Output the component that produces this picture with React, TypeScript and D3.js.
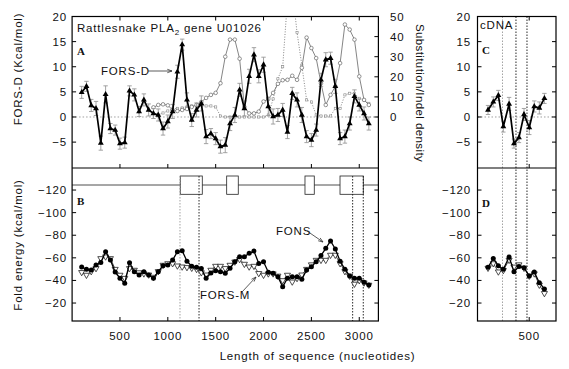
import React from 'react';
import * as d3 from 'd3';

// ---------- DATA ----------
const forsPositions = [100,150,200,250,300,350,400,450,500,550,600,650,700,750,800,850,900,950,1000,1050,1100,1150,1200,1250,1300,1350,1400,1450,1500,1550,1600,1650,1700,1750,1800,1850,1900,1950,2000,2050,2100,2150,2200,2250,2300,2350,2400,2450,2500,2550,2600,2650,2700,2750,2800,2850,2900,2950,3000,3050,3100];
const forsD = [4.9,6.1,2.3,1.7,-5.2,4.5,-2.3,-2.6,-5.3,-5.1,5.2,4.4,1.1,3.4,1.4,0.7,0.4,-2.3,-0.9,1.1,9.0,14.4,3.4,-0.6,1.4,2.7,-3.9,-3.3,-4.3,-5.9,-5.6,-1.3,0.4,5.4,1.7,8.1,12.4,8.1,10.4,2.1,0.1,0.4,1.4,-3.0,4.7,3.4,0.4,-3.9,-4.6,-2.6,7.4,11.4,11.7,6.1,-4.3,-3.9,-1.3,4.1,2.4,0.7,-1.3];
const forsDErr = [1.2,1.0,1.2,1.4,1.4,1.7,1.0,1.0,1.1,1.1,1.0,1.2,1.0,1.2,1.2,1.0,1.2,1.3,1.3,1.4,1.3,1.1,1.4,1.3,1.4,1.5,1.4,1.0,1.2,1.3,1.5,1.4,1.5,1.3,1.5,1.4,1.4,1.3,1.5,1.8,1.5,1.3,1.3,1.3,1.2,1.4,1.5,1.2,1.3,1.2,1.3,1.4,1.2,1.4,1.2,1.3,1.3,1.3,1.2,1.3,1.3];
const fons = [-51.9,-49.8,-49.2,-53.6,-55.8,-65.4,-58,-47.4,-41.9,-37.4,-55.7,-47.7,-44.8,-47.7,-44.8,-41.9,-47.7,-53,-53.6,-58,-65.4,-66.3,-57,-52.5,-51.6,-50.5,-41.9,-46.5,-48.6,-47.7,-46.3,-50.7,-56.5,-61,-61,-64,-66,-55,-56.5,-47.2,-46.3,-43.3,-34.4,-41.9,-43.3,-43.3,-41,-49.2,-52.1,-56.5,-62,-68.4,-74.9,-67.8,-57,-50,-44,-42,-42,-38.5,-36];
const forsM = [-47.2,-44.8,-48,-50.7,-59.5,-61,-59.5,-50,-44.8,-42,-50.7,-49.2,-47,-46,-45,-43,-48,-53.6,-55,-55,-53,-52.1,-51.6,-51,-50,-47,-45,-49.2,-52.7,-52.7,-50.7,-53.6,-56.5,-58.7,-54.5,-52.1,-52.7,-46.3,-44.8,-46,-46,-44,-40,-44.8,-38.8,-41.9,-45,-50,-54,-58,-58,-58,-62.5,-62.5,-55,-48,-44,-36.9,-40,-38,-36];

const substPositions = [850,900,950,1000,1050,1100,1150,1200,1250,1300,1350,1400,1450,1500,1550,1600,1650,1700,1750,1800,1850,1900,1950,2000,2050,2100,2150,2200,2250,2300,2350,2400,2450,2500,2550,2600,2650,2700,2750,2800,2850,2900,2950,3000,3050,3100];
const substDensity = [4.8,6,6.3,5.8,3.5,3,3.5,4,5,6,7.5,9.5,11,12,16.8,30,38.5,38.5,29,5,1.8,1.8,2.7,7.7,9,12,16.5,18.3,18.5,20.5,18.5,24.5,39.5,34.3,29.3,16.8,6,11,15.2,26.8,46,43.5,38.5,20.2,8.5,6];
const indelPositions = [900,950,1000,1050,1100,1150,1200,1250,1300,1350,1400,1450,1500,1550,1600,1650,1700,1750,1800,1850,1900,1950,2000,2050,2100,2150,2200,2250,2300,2350,2400,2450,2500,2550,2600,2650,2700,2750,2800,2850,2900,2950,3000,3050,3100];
const indelDensity = [1,2,3,4,4.3,4.5,5,5.5,5,5.7,5.5,5.5,5,0.5,0,0,0,0,0,0,0,0,0,1,9,19,25,58,64,42,25.8,8.5,7.5,1,0.5,0.5,0.5,4.3,4.3,11,11.8,11.8,9.3,8.5,6.8];

const cdnaPositions = [70,125,178,230,290,341,393,446,501,553,606,659];
const cdnaForsD = [1.4,3.0,4.3,-1.9,2.6,-5.3,-4.1,0.5,-2.1,2.1,1.8,3.7];
const cdnaForsDErr = [0.9,1.0,1.0,1.1,1.3,0.9,1.0,1.2,1.4,1.1,1.2,1.0];
const cdnaFons = [-51.6,-59.5,-53,-49.8,-60.7,-47.7,-52.3,-51.2,-44,-47.5,-38,-32.5];
const cdnaForsM = [-51,-55,-47.7,-49,-58,-52,-54,-51,-44,-46,-36,-28.6];

const exons = [[1130,1360],[1615,1736],[2433,2530],[2799,3042]];
const geneMarks = [{ pos: 1127, dark: false }, { pos: 1326, dark: true }, { pos: 2931, dark: true }, { pos: 3042, dark: true }];
const cdnaMarks = [{ pos: 221, dark: false }, { pos: 362, dark: true }, { pos: 477, dark: true }];

const xTicks = [500,1000,1500,2000,2500,3000];
const cdnaXTicks = [500];
const forsTicks = [20,15,10,5,0,-5];
const densityTicks = [50,40,30,20,10,0];
const foldTicks = [-120,-100,-80,-60,-40,-20];

// ---------- LAYOUT ----------
const L = 72.1, R = 378.4, TOP = 16.5, MID = 168, BOT = 321;
const CL = 477.5, CR = 556;
const FONT = "'Liberation Sans', Arial, sans-serif";

const x = d3.scaleLinear().domain([0, 3200]).range([L, R]);
const xc = d3.scaleLinear().domain([-40, 780]).range([CL, CR]);
const yA = d3.scaleLinear().domain([-10.15, 20]).range([MID, TOP]);
const yR = d3.scaleLinear().domain([0, 50]).range([yA(0), TOP]);
const yB = d3.scaleLinear().domain([-139.5, -4.1]).range([MID, BOT]);

const tri = d3.symbol(d3.symbolTriangle, 15)() as string;
const triSmall = d3.symbol(d3.symbolTriangle, 16)() as string;
const fmt = (v: number) => (v < 0 ? '\u2212' + Math.abs(v) : String(v));

function Series({ xs, ys, xScale, yScale, kind }: any) {
  const pts = xs.map((p: number, i: number) => [xScale(p), yScale(ys[i])]);
  const line = d3.line()(pts) as string;
  if (kind === 'fors') {
    return (
      <g>
        <path d={line} fill="none" stroke="#000" strokeWidth={1.7} />
        {pts.map((p: number[], i: number) => (
          <path key={i} d={tri} transform={`translate(${p[0]},${p[1]})`} fill="#000" />
        ))}
      </g>
    );
  }
  if (kind === 'fons') {
    return (
      <g>
        <path d={line} fill="none" stroke="#000" strokeWidth={1.3} />
        {pts.map((p: number[], i: number) => (
          <circle key={i} cx={p[0]} cy={p[1]} r={2.5} fill="#000" />
        ))}
      </g>
    );
  }
  if (kind === 'forsm') {
    return (
      <g>
        <path d={line} fill="none" stroke="#222" strokeWidth={0.8} />
        {pts.map((p: number[], i: number) => (
          <path key={i} d={triSmall} transform={`translate(${p[0]},${p[1]}) rotate(180)`} fill="#fff" stroke="#222" strokeWidth={0.8} />
        ))}
      </g>
    );
  }
  if (kind === 'subst') {
    return (
      <g>
        <path d={line} fill="none" stroke="#666" strokeWidth={0.8} />
        {pts.map((p: number[], i: number) => (
          <circle key={i} cx={p[0]} cy={p[1]} r={1.8} fill="#fff" stroke="#666" strokeWidth={0.7} />
        ))}
      </g>
    );
  }
  // indel
  return (
    <g>
      <path d={line} fill="none" stroke="#777" strokeWidth={0.9} strokeDasharray="1,1.6" />
      {pts.map((p: number[], i: number) => (
        <rect key={i} x={p[0] - 1.1} y={p[1] - 1.1} width={2.2} height={2.2} fill="#fff" stroke="#888" strokeWidth={0.6} />
      ))}
    </g>
  );
}

function ErrorBars({ xs, ys, es, xScale, yScale }: any) {
  return (
    <g stroke="#999" strokeWidth={0.9}>
      {xs.map((p: number, i: number) => {
        const cx = xScale(p), y1 = yScale(ys[i] - es[i]), y2 = yScale(ys[i] + es[i]);
        return (
          <g key={i}>
            <line x1={cx} x2={cx} y1={y1} y2={y2} />
            <line x1={cx - 2.2} x2={cx + 2.2} y1={y1} y2={y1} />
            <line x1={cx - 2.2} x2={cx + 2.2} y1={y2} y2={y2} />
          </g>
        );
      })}
    </g>
  );
}

function Arrow({ x1, y1, x2, y2 }: any) {
  const a = Math.atan2(y2 - y1, x2 - x1);
  const h = 5;
  const p1 = [x2 - h * Math.cos(a - 0.35), y2 - h * Math.sin(a - 0.35)];
  const p2 = [x2 - h * Math.cos(a + 0.35), y2 - h * Math.sin(a + 0.35)];
  return (
    <g stroke="#333" strokeWidth={0.8} fill="none">
      <line x1={x1} y1={y1} x2={x2} y2={y2} />
      <path d={`M${p1[0]},${p1[1]} L${x2},${y2} L${p2[0]},${p2[1]}`} />
    </g>
  );
}

export default function App() {
  const T = 4;
  const txt = { fontFamily: FONT, fontSize: 11.5, letterSpacing: 0.8, fill: '#111' } as any;
  return (
    <svg width={569} height={369} style={{ position: 'absolute', left: 0, top: 0, background: '#fff' }}>
      <defs>
        <clipPath id="clipA"><rect x={L} y={TOP} width={R - L} height={MID - TOP} /></clipPath>
        <clipPath id="clipC"><rect x={CL} y={TOP} width={CR - CL} height={MID - TOP} /></clipPath>
      </defs>
      <rect x={0} y={0} width={569} height={369} fill="#fff" />

      {/* ===== Panel A ===== */}
      <line x1={L} x2={R} y1={yA(0)} y2={yA(0)} stroke="#888" strokeWidth={0.8} strokeDasharray="1.5,2" />
      <g clipPath="url(#clipA)">
        <Series xs={indelPositions} ys={indelDensity} xScale={x} yScale={yR} kind="indel" />
        <Series xs={substPositions} ys={substDensity} xScale={x} yScale={yR} kind="subst" />
        <ErrorBars xs={forsPositions} ys={forsD} es={forsDErr} xScale={x} yScale={yA} />
        <Series xs={forsPositions} ys={forsD} xScale={x} yScale={yA} kind="fors" />
      </g>

      {/* ===== Panel B ===== */}
      <line x1={L} x2={R} y1={185} y2={185} stroke="#222" strokeWidth={0.8} />
      {exons.map((e, i) => (
        <rect key={i} x={x(e[0])} y={176} width={x(e[1]) - x(e[0])} height={18.3} fill="#fff" stroke="#222" strokeWidth={0.8} />
      ))}
      {geneMarks.map((m, i) => (
        <line key={i} x1={x(m.pos)} x2={x(m.pos)} y1={176} y2={BOT} stroke={m.dark ? '#111' : '#999'} strokeWidth={0.9} strokeDasharray="1.5,1.5" />
      ))}
      <Series xs={forsPositions} ys={forsM} xScale={x} yScale={yB} kind="forsm" />
      <Series xs={forsPositions} ys={fons} xScale={x} yScale={yB} kind="fons" />

      {/* ===== Panel C / D ===== */}
      {cdnaMarks.map((m, i) => (
        <line key={i} x1={xc(m.pos)} x2={xc(m.pos)} y1={TOP} y2={BOT} stroke={m.dark ? '#111' : '#999'} strokeWidth={0.9} strokeDasharray="1.5,1.5" />
      ))}
      <line x1={CL} x2={CR} y1={yA(0)} y2={yA(0)} stroke="#888" strokeWidth={0.8} strokeDasharray="1.5,2" />
      <g clipPath="url(#clipC)">
        <ErrorBars xs={cdnaPositions} ys={cdnaForsD} es={cdnaForsDErr} xScale={xc} yScale={yA} />
        <Series xs={cdnaPositions} ys={cdnaForsD} xScale={xc} yScale={yA} kind="fors" />
      </g>
      <Series xs={cdnaPositions} ys={cdnaForsM} xScale={xc} yScale={yB} kind="forsm" />
      <Series xs={cdnaPositions} ys={cdnaFons} xScale={xc} yScale={yB} kind="fons" />

      {/* ===== Frames & ticks ===== */}
      <g fill="none" stroke="#000" strokeWidth={1.2}>
        <rect x={L} y={TOP} width={R - L} height={BOT - TOP} />
        <line x1={L} x2={R} y1={MID} y2={MID} />
        <rect x={CL} y={TOP} width={CR - CL} height={BOT - TOP} />
        <line x1={CL} x2={CR} y1={MID} y2={MID} />
      </g>
      <g stroke="#000" strokeWidth={1}>
        {xTicks.map(t => (
          <g key={t}>
            <line x1={x(t)} x2={x(t)} y1={TOP} y2={TOP + T} />
            <line x1={x(t)} x2={x(t)} y1={MID} y2={MID - T} />
            <line x1={x(t)} x2={x(t)} y1={BOT} y2={BOT - T} />
          </g>
        ))}
        {cdnaXTicks.map(t => (
          <g key={t}>
            <line x1={xc(t)} x2={xc(t)} y1={TOP} y2={TOP + T} />
            <line x1={xc(t)} x2={xc(t)} y1={MID} y2={MID - T} />
            <line x1={xc(t)} x2={xc(t)} y1={BOT} y2={BOT - T} />
          </g>
        ))}
        {forsTicks.map(t => (
          <g key={t}>
            <line x1={L} x2={L + T} y1={yA(t)} y2={yA(t)} />
            <line x1={CL} x2={CL + T} y1={yA(t)} y2={yA(t)} />
            <line x1={CR} x2={CR - T} y1={yA(t)} y2={yA(t)} />
          </g>
        ))}
        {densityTicks.map(t => (
          <line key={t} x1={R} x2={R - T} y1={yR(t)} y2={yR(t)} />
        ))}
        {foldTicks.map(t => (
          <g key={t}>
            <line x1={L} x2={L + T} y1={yB(t)} y2={yB(t)} />
            <line x1={R} x2={R - T} y1={yB(t)} y2={yB(t)} />
            <line x1={CL} x2={CL + T} y1={yB(t)} y2={yB(t)} />
            <line x1={CR} x2={CR - T} y1={yB(t)} y2={yB(t)} />
          </g>
        ))}
      </g>

      {/* ===== Tick labels ===== */}
      <g {...txt}>
        {forsTicks.map(t => (
          <g key={t}>
            <text x={67} y={yA(t) + 4} textAnchor="end">{fmt(t)}</text>
            <text x={471} y={yA(t) + 4} textAnchor="end">{fmt(t)}</text>
          </g>
        ))}
        {densityTicks.map(t => (
          <text key={t} x={390} y={yR(t) + 4}>{t}</text>
        ))}
        {foldTicks.map(t => (
          <g key={t}>
            <text x={67} y={yB(t) + 4} textAnchor="end">{fmt(t)}</text>
            <text x={471} y={yB(t) + 4} textAnchor="end">{fmt(t)}</text>
          </g>
        ))}
        {xTicks.map(t => (
          <text key={t} x={x(t)} y={340} textAnchor="middle">{t}</text>
        ))}
        {cdnaXTicks.map(t => (
          <text key={t} x={xc(t)} y={340} textAnchor="middle">{t}</text>
        ))}
      </g>

      {/* ===== Axis titles ===== */}
      <g {...txt}>
        <text transform="translate(22,69) rotate(-90)" textAnchor="middle">FORS-D (Kcal/mol)</text>
        <text transform="translate(22,245) rotate(-90)" textAnchor="middle">Fold energy (kcal/mol)</text>
        <text transform="translate(416,93) rotate(90)" textAnchor="middle" style={{ letterSpacing: 0.4 }}>Substitution/Indel density</text>
        <text x={317.5} y={360} textAnchor="middle">Length of sequence (nucleotides)</text>
      </g>

      {/* ===== Annotations ===== */}
      <g {...txt}>
        <text x={77} y={32}>Rattlesnake PLA<tspan dy={3} fontSize={8}>2</tspan><tspan dy={-3}> gene U01026</tspan></text>
        <text x={101} y={75}>FORS-D</text>
        <text x={480} y={29}>cDNA</text>
        <text x={276} y={235}>FONS</text>
        <text x={200} y={299}>FORS-M</text>
      </g>
      <g fontFamily="'Liberation Serif', 'DejaVu Serif', serif" fontWeight="bold" fontSize={11} fill="#111">
        <text x={77} y={55}>A</text>
        <text x={77} y={205}>B</text>
        <text x={482} y={54}>C</text>
        <text x={482} y={207}>D</text>
      </g>
      <Arrow x1={148} y1={71} x2={172} y2={71} />
      <Arrow x1={307} y1={231} x2={323} y2={242} />
      <Arrow x1={242} y1={292} x2={256} y2={277} />
    </svg>
  );
}
